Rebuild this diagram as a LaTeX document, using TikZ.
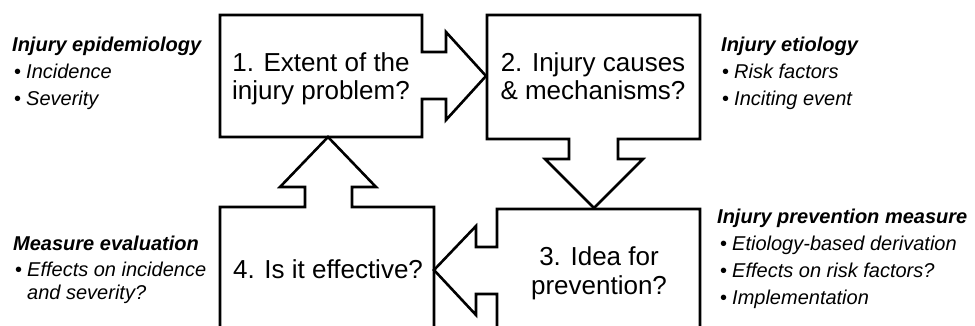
\documentclass[tikz,border=0pt]{standalone}
\usepackage{fontspec}
\setmainfont{Liberation Sans}
\newcommand\blt{\makebox[12pt][l]{\upshape •}}
\begin{document}
\begin{tikzpicture}[x=1pt,y=-1pt,
  shapeline/.style={draw=black, line width=2.6pt, line join=miter, miter limit=10},
  boxtext/.style={font=\fontsize{26}{28.5}\selectfont, align=center, inner sep=0pt},
  sidehead/.style={font=\fontsize{20}{24}\selectfont\bfseries\itshape, anchor=base west, inner sep=0pt},
  sideitem/.style={font=\fontsize{20}{24}\selectfont\itshape, anchor=base west, inner sep=0pt}]
\useasboundingbox (0,0) rectangle (975,326);
\clip (0,0) rectangle (975,326);
% box 1 with right arrow
\draw[shapeline] (220,15) -- (422,15) -- (422,52) -- (446,52) -- (446,32) -- (486,76)
  -- (446,120) -- (446,99) -- (422,99) -- (422,137) -- (220,137) -- cycle;
% box 2 with down arrow
\draw[shapeline] (487,15) -- (700,15) -- (700,139) -- (618,139) -- (618,159) -- (643,159)
  -- (594,208) -- (545,159) -- (569,159) -- (569,139) -- (487,139) -- cycle;
% box 3 with left arrow
\draw[shapeline] (497,209) -- (700,209) -- (700,345) -- (497,345) -- (497,294) -- (476,294)
  -- (476,315) -- (434,270) -- (476,226) -- (476,247) -- (497,247) -- cycle;
% box 4 with up arrow
\draw[shapeline] (220,207) -- (305,207) -- (305,187) -- (280,187) -- (328,137) -- (376,187)
  -- (352,187) -- (352,207) -- (434,207) -- (434,345) -- (220,345) -- cycle;
% box texts
\node[boxtext] (q1) at (321,79) {1. Extent of the\\injury problem?};
\node[boxtext] (q2) at (593,76.4) {2. Injury causes\\\& mechanisms?};
\node[boxtext] (q3) at (599,273.3) {3. Idea for\\prevention?};
\node[boxtext, anchor=base] (q4) at (328,278) {4. Is it effective?};
% side texts
\node[sidehead] (epi) at (12,52) {Injury epidemiology};
\node[sideitem] (epi1) at (14,79) {\blt Incidence};
\node[sideitem] (epi2) at (14,106) {\blt Severity};
\node[sidehead] (eti) at (721,52) {Injury etiology};
\node[sideitem] (eti1) at (722,79) {\blt Risk factors};
\node[sideitem] (eti2) at (722,106) {\blt Inciting event};
\node[sidehead] (prv) at (717,223) {Injury prevention measure};
\node[sideitem] (prv1) at (720,250) {\blt Etiology-based derivation};
\node[sideitem] (prv2) at (720,277) {\blt Effects on risk factors?};
\node[sideitem] (prv3) at (720,304) {\blt Implementation};
\node[sidehead] (evl) at (13,250) {Measure evaluation};
\node[sideitem] (evl1) at (15,276) {\blt Effects on incidence};
\node[sideitem] (evl2) at (27,299) {and severity?};
\end{tikzpicture}
\end{document}
